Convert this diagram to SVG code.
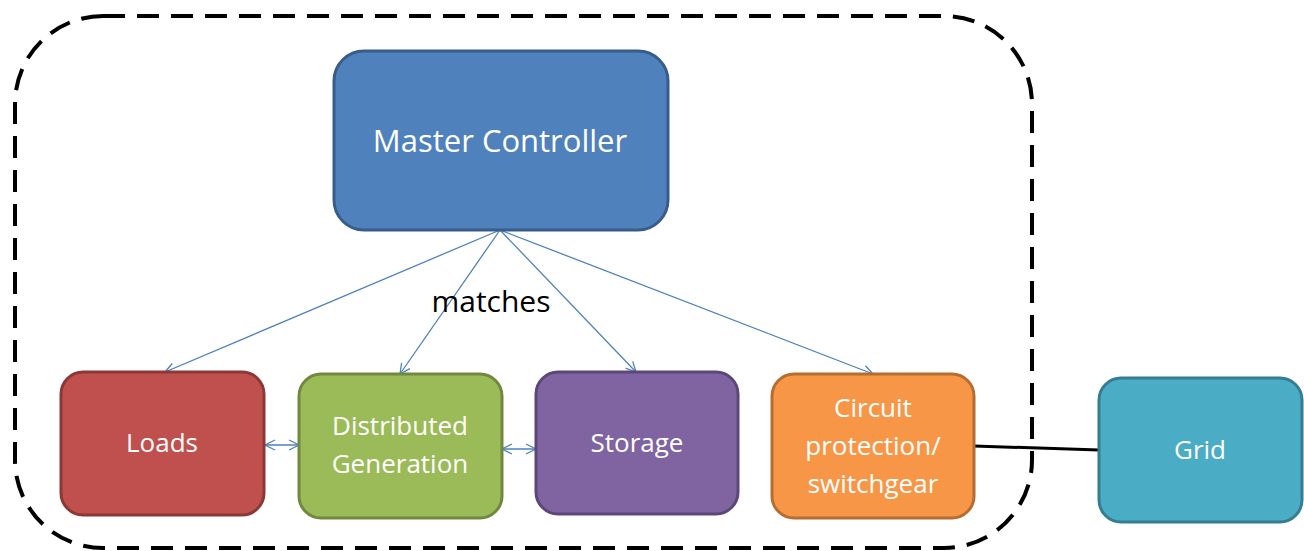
<svg xmlns="http://www.w3.org/2000/svg" width="1304" height="551" viewBox="0 0 1304 551">
<defs>
<style>
.lbl{font-family:"Open Sans","Liberation Sans",sans-serif;fill:#ffffff;text-anchor:middle}
.box{stroke-width:3}
.conn{stroke:#4f81bd;stroke-width:1.3;fill:none}
</style>
<marker id="ah" viewBox="0 0 12 12" refX="11" refY="6" markerWidth="12" markerHeight="12" markerUnits="userSpaceOnUse" orient="auto-start-reverse">
<path d="M1,1 L11,6 L1,11" fill="none" stroke="#4f81bd" stroke-width="1.3"/>
</marker>
</defs>
<rect width="1304" height="551" fill="#ffffff"/>
<g id="boundary">
<rect x="15" y="16" width="1017" height="532" rx="88" ry="88" fill="none" stroke="#000" stroke-width="4" stroke-dasharray="22,12"/>
</g>
<g id="connectors">
<line class="conn" x1="500" y1="230" x2="165" y2="372" marker-end="url(#ah)"/>
<line class="conn" x1="500" y1="230" x2="400" y2="374" marker-end="url(#ah)"/>
<line class="conn" x1="500" y1="230" x2="636" y2="372" marker-end="url(#ah)"/>
<line class="conn" x1="500" y1="230" x2="873" y2="374" marker-end="url(#ah)"/>
<line class="conn" x1="265" y1="445" x2="299" y2="445" marker-start="url(#ah)" marker-end="url(#ah)"/>
<line class="conn" x1="502" y1="449" x2="536" y2="449" marker-start="url(#ah)" marker-end="url(#ah)"/>
<line x1="974" y1="446" x2="1099" y2="450" stroke="#000" stroke-width="3"/>
</g>
<g id="master">
<rect class="box" x="334" y="51" width="334" height="179" rx="30" fill="#4f81bd" stroke="#385d8a"/>
<text class="lbl" x="500" y="152" font-size="31">Master Controller</text>
</g>
<g id="loads">
<rect class="box" x="61" y="372" width="203" height="143" rx="22" fill="#c0504d" stroke="#8c3836"/>
<text class="lbl" x="162" y="452" font-size="26">Loads</text>
</g>
<g id="dg">
<rect class="box" x="299" y="374" width="203" height="144" rx="22" fill="#9bbb59" stroke="#71893f"/>
<text class="lbl" x="400" y="435" font-size="26">Distributed</text>
<text class="lbl" x="400" y="473" font-size="26">Generation</text>
</g>
<g id="storage">
<rect class="box" x="536" y="372" width="202" height="142" rx="22" fill="#8064a2" stroke="#5c4776"/>
<text class="lbl" x="637" y="452" font-size="26">Storage</text>
</g>
<g id="circuit">
<rect class="box" x="772" y="374" width="202" height="144" rx="22" fill="#f79646" stroke="#b66d31"/>
<text class="lbl" x="873" y="417" font-size="26">Circuit</text>
<text class="lbl" x="873" y="455" font-size="26">protection/</text>
<text class="lbl" x="873" y="493" font-size="26">switchgear</text>
</g>
<g id="grid">
<rect class="box" x="1099" y="378" width="203" height="144" rx="22" fill="#4bacc6" stroke="#357d91"/>
<text class="lbl" x="1200" y="459" font-size="26">Grid</text>
</g>
<g id="label-matches">
<text x="491" y="312" font-family="Open Sans, Liberation Sans, sans-serif" font-size="30" fill="#000" text-anchor="middle">matches</text>
</g>
</svg>
